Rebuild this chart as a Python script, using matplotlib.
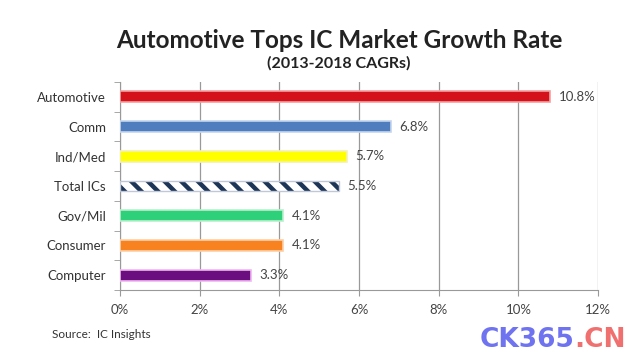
import numpy as np
import matplotlib.pyplot as plt

# ---- data ----
categories = ["Automotive", "Comm", "Ind/Med", "Total ICs", "Gov/Mil", "Consumer", "Computer"]
cagr = [10.8, 6.8, 5.7, 5.5, 4.1, 4.1, 3.3]
labels = ["10.8%", "6.8%", "5.7%", "5.5%", "4.1%", "4.1%", "3.3%"]
colors = ["#d3121c", "#4f7dbd", "#ffff00", "#1d3557", "#2fd07a", "#f7821f", "#6b0f80"]
edges = ["#f2a0a0", "#c5d5ee", "#f5f0b0", "#c0c8d8", "#b8f0cc", "#fbd0a8", "#f0b8f0"]
xticks = [0, 2, 4, 6, 8, 10, 12]

plt.rcParams['font.family'] = ['Lato', 'DejaVu Sans']

fig = plt.figure(figsize=(6.4, 3.64), dpi=100)
fig.patch.set_facecolor('white')
ax = fig.add_axes([0.1875, 0.203, 0.747, 0.572])

y = np.arange(len(categories))
for i, (v, c, e) in enumerate(zip(cagr, colors, edges)):
    if categories[i] == "Total ICs":
        plt.rcParams['hatch.linewidth'] = 3.2
        ax.barh(y[i], v, height=0.36, color='white', edgecolor=c,
                hatch='\\\\', linewidth=0, zorder=3)
        ax.barh(y[i], v, height=0.36, fill=False, edgecolor=e,
                linewidth=1, zorder=4)
    else:
        ax.barh(y[i], v, height=0.36, color=c, edgecolor=e,
                linewidth=1.2, zorder=3)
    ax.annotate(labels[i], (v, y[i]), xytext=(6, 0), textcoords='offset points',
                va='center', ha='left', fontsize=9.5, color='#444444')

ax.set_xlim(0, 12)
ax.set_ylim(len(categories) - 0.5, -0.5)
ax.set_xticks(xticks)
ax.set_xticklabels([f"{t}%" for t in xticks], fontsize=9.5, color='#444444')
ax.set_yticks(y)
ax.set_yticklabels(categories, fontsize=9.5, color='#333333')
ax.set_yticks(np.arange(len(categories) + 1) - 0.5, minor=True)
ax.tick_params(axis='y', which='major', length=0, pad=10)
ax.tick_params(axis='y', which='minor', length=4, color='#999999')
ax.tick_params(axis='x', length=4, color='#999999', pad=6)

ax.grid(axis='x', color='#999999', linewidth=0.9, zorder=0)
for s in ['top', 'right']:
    ax.spines[s].set_visible(False)
for s in ['left', 'bottom']:
    ax.spines[s].set_color('#999999')

fig.text(0.53, 0.89, "Automotive Tops IC Market Growth Rate", ha='center', va='center',
         fontsize=17.5, fontweight='bold', color='#222222')
fig.text(0.53, 0.827, "(2013-2018 CAGRs)", ha='center', va='center',
         fontsize=11.5, fontweight='bold', color='#222222')
fig.text(0.081, 0.08, "Source:  IC Insights", ha='left', va='center',
         fontsize=8.5, color='#333333')

# watermark
fig.text(0.898, 0.065, "CK365", ha='right', va='center', fontsize=19,
         fontweight='bold', color='#6f73f0', family='DejaVu Sans')
fig.text(0.898, 0.065, ".CN", ha='left', va='center', fontsize=19,
         fontweight='bold', color='#f07070', family='DejaVu Sans')

plt.savefig("out.png", dpi=100)
